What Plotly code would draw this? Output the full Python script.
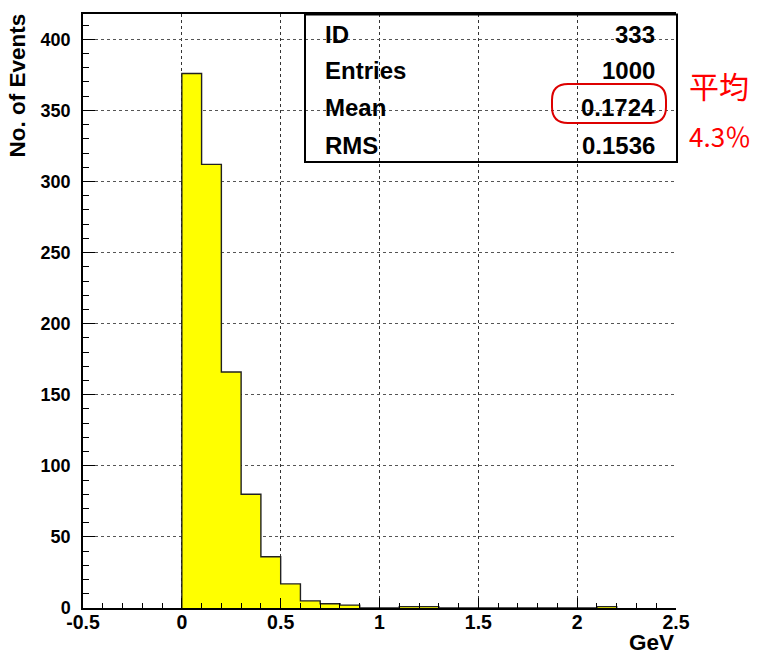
import numpy as np
import plotly.graph_objects as go

# Histogram contents: 0.1 GeV bins starting at 0
bin_lo = 0.0
bin_width = 0.1
counts = [376, 312, 166, 80, 36, 17, 5, 3, 2, 0, 0,
          1, 1, 0, 0, 0, 0, 0, 0, 0, 0, 1]
hist_id = 333

x_ticks = [-0.5, 0, 0.5, 1, 1.5, 2, 2.5]
x_tick_text = ["-0.5", "0", "0.5", "1", "1.5", "2", "2.5"]
y_ticks = [0, 50, 100, 150, 200, 250, 300, 350, 400]

note_title = "平均"
note_value = "4.3％"

counts = np.array(counts, dtype=float)
edges = bin_lo + bin_width * np.arange(len(counts) + 1)
centers = 0.5 * (edges[:-1] + edges[1:])

entries = int(counts.sum())
mean = float((centers * counts).sum() / counts.sum())
rms = float(np.sqrt((centers ** 2 * counts).sum() / counts.sum() - mean ** 2))

# Figure geometry (pixels)
FIG_W, FIG_H = 758, 655
ML, MR, MT, MB = 83, 82, 14, 47
PW, PH = FIG_W - ML - MR, FIG_H - MT - MB


def px(x):
    return (x - ML) / PW


def py(y):
    return (FIG_H - MB - y) / PH


fig = go.Figure()

# filled bins
fig.add_trace(go.Bar(
    x=centers, y=counts, width=bin_width,
    marker=dict(color="#ffff00", line=dict(width=0)),
    hoverinfo="skip", showlegend=False,
))

# histogram contour drawn as a step line
step_x = np.concatenate([[edges[0]], edges[:-1], [edges[-1]]])
step_y = np.concatenate([[0], counts, [0]])
fig.add_trace(go.Scatter(
    x=step_x, y=step_y, mode="lines",
    line=dict(shape="hv", color="#222222", width=1.4),
    hoverinfo="skip", showlegend=False,
))

SANS = "Liberation Sans, Arial, sans-serif"
xtick_font = dict(family=SANS, size=19.5, color="black", weight="bold")
ytick_font = dict(family=SANS, size=18, color="black", weight="bold")

fig.update_xaxes(
    range=[-0.5, 2.5], tickvals=x_ticks, ticktext=x_tick_text,
    ticks="inside", ticklen=10, tickwidth=1, tickcolor="black",
    minor=dict(dtick=0.1, tick0=0, ticks="inside", ticklen=5,
               tickcolor="black", showgrid=False),
    showgrid=True, gridcolor="#333333", griddash="dot", gridwidth=1,
    showline=True, linecolor="black", linewidth=1.5, mirror=True,
    zeroline=False, tickfont=xtick_font, ticklabelstandoff=-4,
)
fig.update_yaxes(
    range=[0, 417.8], tickvals=y_ticks,
    ticks="inside", ticklen=12, tickwidth=1, tickcolor="black",
    minor=dict(dtick=10, tick0=0, ticks="inside", ticklen=6,
               tickcolor="black", showgrid=False),
    showgrid=True, gridcolor="#555555", griddash="dot", gridwidth=1,
    showline=True, linecolor="black", linewidth=1.5,
    zeroline=False, tickfont=ytick_font, ticklabelstandoff=7,
)

label_font = dict(family=SANS, size=22.5, color="black", weight="bold")

annotations = [
    dict(text="No. of Events", x=px(17.5), y=py(12), xref="paper", yref="paper",
         textangle=-90, xanchor="center", yanchor="top", showarrow=False,
         font=label_font),
    dict(text="GeV", x=px(676), y=py(642.5), xref="paper", yref="paper",
         xanchor="right", yanchor="middle", showarrow=False, font=label_font),
]

# statistics box
stat_font = dict(family=SANS, size=24, color="black", weight="bold")
rows = [("ID", f"{hist_id}"), ("Entries", f"{entries}"),
        ("Mean", f"{mean:.4f}"), ("RMS", f"{rms:.4f}")]
row_y = [34.5, 70.5, 107.5, 145]
for (name, val), ry in zip(rows, row_y):
    annotations.append(dict(text=name, x=px(323), y=py(ry), xref="paper", yref="paper",
                            xanchor="left", yanchor="middle", showarrow=False,
                            font=stat_font))
    annotations.append(dict(text=val, x=px(657), y=py(ry), xref="paper", yref="paper",
                            xanchor="right", yanchor="middle", showarrow=False,
                            font=stat_font))

note_font = dict(family="Noto Sans CJK JP, Noto Sans CJK SC, sans-serif",
                 size=30, color="#ff0000")
annotations.append(dict(text=note_title, x=px(719), y=py(85), xref="paper", yref="paper",
                        xanchor="center", yanchor="middle", showarrow=False,
                        font=note_font))
annotations.append(dict(text=note_value, x=px(720), y=py(136), xref="paper", yref="paper",
                        xanchor="center", yanchor="middle", showarrow=False,
                        font=dict(note_font, size=26)))

shapes = [
    dict(type="rect", xref="paper", yref="paper",
         x0=px(305), x1=px(677), y0=py(162), y1=py(14.5),
         line=dict(color="black", width=2), fillcolor="rgba(0,0,0,0)"),
]

# rounded outline around the mean value
x0, x1, y0, y1, r = 552, 666, 84, 123, 16


def pt(x, y):
    return f"{px(x):.5f},{py(y):.5f}"


path = (f"M {pt(x0 + r, y0)} L {pt(x1 - r, y0)} Q {pt(x1, y0)} {pt(x1, y0 + r)} "
        f"L {pt(x1, y1 - r)} Q {pt(x1, y1)} {pt(x1 - r, y1)} "
        f"L {pt(x0 + r, y1)} Q {pt(x0, y1)} {pt(x0, y1 - r)} "
        f"L {pt(x0, y0 + r)} Q {pt(x0, y0)} {pt(x0 + r, y0)} Z")
shapes.append(dict(type="path", xref="paper", yref="paper", path=path,
                   line=dict(color="#dd0000", width=2)))

fig.update_layout(
    width=FIG_W, height=FIG_H,
    margin=dict(l=ML, r=MR, t=MT, b=MB, pad=0),
    paper_bgcolor="white", plot_bgcolor="white",
    bargap=0, showlegend=False,
    annotations=annotations, shapes=shapes,
)

fig.write_html("out.html")
